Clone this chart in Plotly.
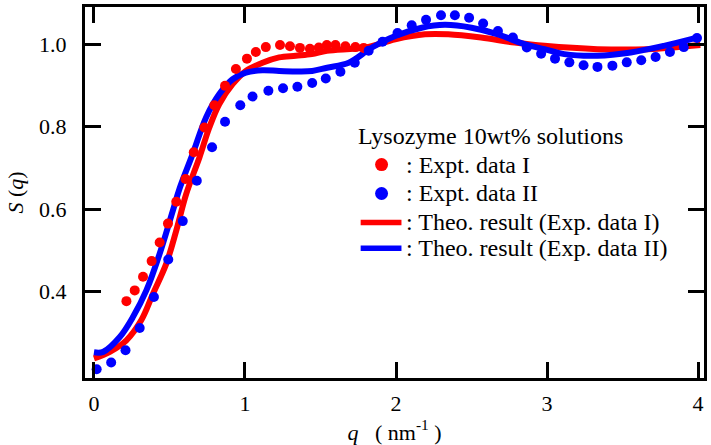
import plotly.graph_objects as go

# Expt. data I (red dots)
q_exp1 = [0.215, 0.270, 0.325, 0.382, 0.435, 0.490, 0.545, 0.606, 0.661, 0.731, 0.797, 0.868, 0.940,
          1.013, 1.072, 1.138, 1.232, 1.298, 1.364, 1.430, 1.489, 1.542, 1.599, 1.665, 1.731, 1.786]
s_exp1 = [0.377, 0.403, 0.436, 0.474, 0.519, 0.565, 0.618, 0.673, 0.738, 0.798, 0.852, 0.899, 0.940,
          0.965, 0.981, 0.993, 0.998, 0.995, 0.991, 0.989, 0.992, 0.998, 0.998, 0.995, 0.993, 0.991]

# Expt. data II (blue dots)
q_exp2 = [0.018, 0.114, 0.209, 0.303, 0.397, 0.492, 0.588, 0.681, 0.782, 0.868, 0.969, 1.050, 1.155,
          1.252, 1.347, 1.445, 1.535, 1.632, 1.727, 1.819, 1.911, 2.010, 2.104, 2.199, 2.298, 2.390,
          2.484, 2.577, 2.675, 2.774, 2.866, 2.961, 3.053, 3.148, 3.242, 3.334, 3.433, 3.528, 3.624,
          3.719, 3.814, 3.906, 3.993]
s_exp2 = [0.212, 0.228, 0.258, 0.312, 0.387, 0.478, 0.571, 0.669, 0.750, 0.812, 0.852, 0.873, 0.887,
          0.893, 0.897, 0.906, 0.917, 0.933, 0.955, 0.984, 1.006, 1.027, 1.046, 1.059, 1.070, 1.070,
          1.064, 1.050, 1.032, 1.016, 0.992, 0.977, 0.965, 0.956, 0.949, 0.945, 0.948, 0.956, 0.961,
          0.969, 0.981, 0.993, 1.015]

# Theo. result (Exp. data I) (red line)
q_th1 = [0.0, 0.105, 0.215, 0.314, 0.391, 0.479, 0.545, 0.611, 0.699, 0.764, 0.830, 0.918, 1.006,
         1.116, 1.226, 1.336, 1.443, 1.542, 1.797, 1.995, 2.192, 2.346, 2.563, 2.786, 2.983, 3.334,
         3.664, 4.015]
s_th1 = [0.238, 0.254, 0.282, 0.331, 0.395, 0.468, 0.548, 0.637, 0.726, 0.798, 0.855, 0.903, 0.935,
         0.955, 0.968, 0.972, 0.976, 0.984, 0.992, 1.012, 1.024, 1.024, 1.016, 1.004, 0.996, 0.988,
         0.988, 0.998]

# Theo. result (Exp. data II) (blue line)
q_th2 = [0.0, 0.061, 0.171, 0.259, 0.347, 0.435, 0.523, 0.567, 0.654, 0.743, 0.830, 0.918, 1.006,
         1.116, 1.226, 1.336, 1.445, 1.544, 1.687, 1.841, 1.995, 2.170, 2.324, 2.500, 2.675, 2.851,
         2.983, 3.115, 3.334, 3.555, 3.774, 3.993]
s_th2 = [0.253, 0.254, 0.290, 0.339, 0.403, 0.492, 0.597, 0.650, 0.734, 0.823, 0.879, 0.915, 0.931,
         0.937, 0.935, 0.934, 0.935, 0.943, 0.955, 0.992, 1.020, 1.040, 1.047, 1.040, 1.024, 1.000,
         0.988, 0.976, 0.972, 0.980, 0.996, 1.016]

x_ticks = [0, 1, 2, 3, 4]
y_ticks = [0.4, 0.6, 0.8, 1.0]

legend_title = "Lysozyme 10wt% solutions"
legend_labels = [": Expt. data I", ": Expt. data II", ": Theo. result (Exp. data I)", ": Theo. result (Exp. data II)"]

RED = "#ff0000"
BLUE = "#0000ff"
FONT = "Liberation Serif"

fig = go.Figure()
fig.add_trace(go.Scatter(x=q_th1, y=s_th1, mode="lines", line=dict(color=RED, width=6, shape="spline"),
                         name=legend_labels[2]))
fig.add_trace(go.Scatter(x=q_th2, y=s_th2, mode="lines", line=dict(color=BLUE, width=6, shape="spline"),
                         name=legend_labels[3]))
fig.add_trace(go.Scatter(x=q_exp1, y=s_exp1, mode="markers", marker=dict(color=RED, size=10),
                         name=legend_labels[0]))
fig.add_trace(go.Scatter(x=q_exp2, y=s_exp2, mode="markers", marker=dict(color=BLUE, size=10),
                         name=legend_labels[1]))

axis_common = dict(showline=True, linewidth=3, linecolor="black", mirror="ticks", ticks="inside",
                   ticklen=16, tickwidth=2.5, tickcolor="black", showgrid=False, zeroline=False,
                   tickfont=dict(family=FONT, size=22, color="black"))

fig.update_xaxes(range=[-0.0593, 4.0395], tickvals=x_ticks, ticktext=[str(v) for v in x_ticks],
                 ticklabelstandoff=4,
                 title=dict(text="<i>q</i>&nbsp;&nbsp;&nbsp;(&nbsp;nm<sup>-1</sup>&nbsp;)",
                            font=dict(family=FONT, size=22, color="black"), standoff=0),
                 **axis_common)
fig.update_yaxes(range=[0.1906, 1.0902], tickvals=y_ticks, ticktext=["%.1f" % v for v in y_ticks],
                 ticklabelstandoff=11,
                 title=dict(text="<i>S</i> (<i>q</i>)", font=dict(family=FONT, size=22, color="black"),
                            standoff=10),
                 **axis_common)

# Legend block (title, keys and labels), placed in paper coordinates
L, R, T, B = 85, 707, 6, 378
def px(xp):
    return (xp - L) / (R - L)
def py(yp):
    return (B - yp) / (B - T)

LEG_FONT = dict(family=FONT, size=24, color="black")
fig.add_annotation(x=px(357), y=py(135), xref="paper", yref="paper", text=legend_title,
                   showarrow=False, xanchor="left", yanchor="middle", font=LEG_FONT)
row_y = [164, 193, 222, 248]
for lbl, yy in zip(legend_labels, row_y):
    fig.add_annotation(x=px(406), y=py(yy), xref="paper", yref="paper", text=lbl,
                       showarrow=False, xanchor="left", yanchor="middle", font=LEG_FONT)
for color, yy in [(RED, row_y[0]), (BLUE, row_y[1])]:
    fig.add_shape(type="circle", xref="paper", yref="paper", xsizemode="pixel", ysizemode="pixel",
                  xanchor=px(383), yanchor=py(yy), x0=-6.5, x1=6.5, y0=-6.5, y1=6.5,
                  fillcolor=color, line=dict(width=0))
for color, yy in [(RED, row_y[2]), (BLUE, row_y[3])]:
    fig.add_shape(type="line", xref="paper", yref="paper", x0=px(362), x1=px(403), y0=py(yy), y1=py(yy),
                  line=dict(color=color, width=5.5))

fig.update_layout(
    width=711, height=445,
    margin=dict(l=L, r=711 - R, t=T, b=445 - B),
    paper_bgcolor="white", plot_bgcolor="white",
    showlegend=False,
)

fig.write_html("out.html", config={"displayModeBar": False},
               post_script="document.body.style.margin='0';document.body.style.padding='0';")
